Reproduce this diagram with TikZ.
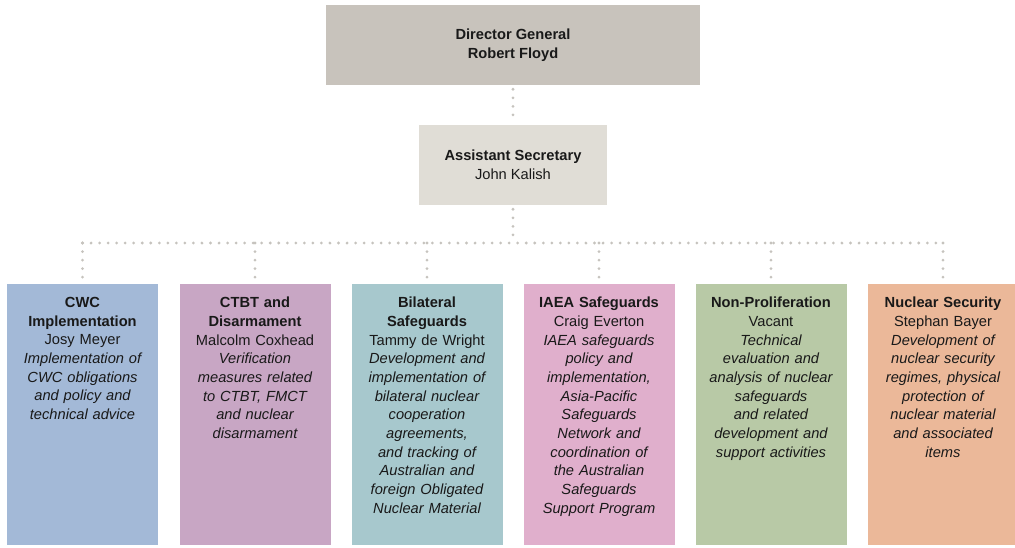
\documentclass[tikz,border=0pt]{standalone}
\usepackage{fontspec}
\setmainfont{Liberation Sans}
\begin{document}
\begin{tikzpicture}[x=0.75pt,y=-0.75pt,
  txt/.style={text=black!90, font=\fontsize{11}{14}\selectfont, align=center, inner sep=0pt},
  topbox/.style={minimum width=374*0.75pt, minimum height=80*0.75pt, inner sep=0pt, txt},
  unitbox/.style={minimum width=151*0.75pt, minimum height=261*0.75pt, inner sep=0pt, anchor=north},
  unittxt/.style={txt, anchor=north, text width=150*0.75pt},
  dotline/.style={draw=dotc, line width=2.3pt, line cap=round, dash pattern=on 0pt off 6.4pt, shorten <=3pt, shorten >=3pt}]
\definecolor{dotc}{HTML}{C6C3BE}
\definecolor{dgc}{HTML}{C8C3BC}
\definecolor{asc}{HTML}{E0DDD6}
\definecolor{c1}{HTML}{A3B9D7}
\definecolor{c2}{HTML}{C8A6C4}
\definecolor{c3}{HTML}{A7C8CD}
\definecolor{c4}{HTML}{E0AFCC}
\definecolor{c5}{HTML}{B8C9A6}
\definecolor{c6}{HTML}{EBB899}
\useasboundingbox[fill=white] (0,0) rectangle (1015,547);

\node[topbox, fill=dgc] (dg) at (513,45) {\textbf{Director General}\\\textbf{Robert Floyd}};
\node[topbox, fill=asc, minimum width=188*0.75pt] (as) at (513,165) {\textbf{Assistant Secretary}\\John Kalish};

\node[unitbox, fill=c1] (b1) at (82.5,284) {};
\node[unitbox, fill=c2] (b2) at (255,284) {};
\node[unitbox, fill=c3] (b3) at (427,284) {};
\node[unitbox, fill=c4] (b4) at (599,284) {};
\node[unitbox, fill=c5] (b5) at (771,284) {};
\node[unitbox, fill=c6] (b6) at (943,284) {};

\node[unittxt] (t1) at (82.5,297) {\textbf{CWC}\\\textbf{Implementation}\\Josy Meyer\\\itshape Implementation of\\\itshape CWC obligations\\\itshape and policy and\\\itshape technical advice};
\node[unittxt] (t2) at (255,297) {\textbf{CTBT and}\\\textbf{Disarmament}\\Malcolm Coxhead\\\itshape Verification\\\itshape measures related\\\itshape to CTBT, FMCT\\\itshape and nuclear\\\itshape disarmament};
\node[unittxt] (t3) at (427,297) {\textbf{Bilateral}\\\textbf{Safeguards}\\Tammy de Wright\\\itshape Development and\\\itshape implementation of\\\itshape bilateral nuclear\\\itshape cooperation\\\itshape agreements,\\\itshape and tracking of\\\itshape Australian and\\\itshape foreign Obligated\\\itshape Nuclear Material};
\node[unittxt] (t4) at (599,297) {\textbf{IAEA Safeguards}\\Craig Everton\\\itshape IAEA safeguards\\\itshape policy and\\\itshape implementation,\\\itshape Asia-Pacific\\\itshape Safeguards\\\itshape Network and\\\itshape coordination of\\\itshape the Australian\\\itshape Safeguards\\\itshape Support Program};
\node[unittxt] (t5) at (771,297) {\textbf{Non-Proliferation}\\Vacant\\\itshape Technical\\\itshape evaluation and\\\itshape analysis of nuclear\\\itshape safeguards\\\itshape and related\\\itshape development and\\\itshape support activities};
\node[unittxt] (t6) at (943,297) {\textbf{Nuclear Security}\\Stephan Bayer\\\itshape Development of\\\itshape nuclear security\\\itshape regimes, physical\\\itshape protection of\\\itshape nuclear material\\\itshape and associated\\\itshape items};

\coordinate (bus) at (513,243);
\draw[dotline] (dg.south) -- (as.north);
\draw[dotline, shorten >=0pt] (as.south) -- (bus);
\draw[dotline, shorten <=0pt, shorten >=0pt] (b1.north |- bus) -- (b6.north |- bus);
\foreach \i in {1,...,6} {
  \draw[dotline, shorten <=0pt] (b\i.north |- bus) -- (b\i.north);
}
\end{tikzpicture}
\end{document}
